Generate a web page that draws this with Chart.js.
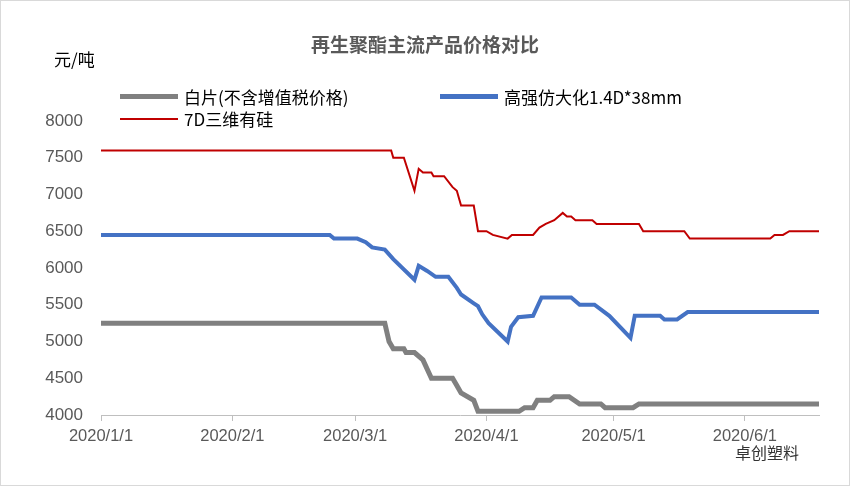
<!DOCTYPE html>
<html><head><meta charset="utf-8">
<script src="https://cdn.jsdelivr.net/npm/chart.js@4"></script>
<style>
body{margin:0;width:850px;height:486px;overflow:hidden;background:#fff;font-family:"Noto Sans CJK SC","Liberation Sans",sans-serif}
#wrap{position:absolute;left:0;top:0;width:848px;height:484px;border:1px solid #d9d9d9}
.t{position:absolute;white-space:nowrap;color:#404040}
.lg{position:absolute;font-size:17px;color:#000;display:flex;align-items:center}
.lg span.l{display:inline-block;width:58px;margin-right:6px}
</style></head><body>
<div id="wrap"><canvas id="c" width="850" height="486"></canvas></div>
<div class="t" style="left:0;width:850px;text-align:center;top:30px;font-size:19px;font-weight:bold;color:#595959">再生聚酯主流产品价格对比</div>
<div class="t" style="left:54px;top:46px;font-size:17px;color:#000">元/吨</div>
<div class="lg" style="left:120px;top:84px"><span class="l" style="height:5px;background:#808080"></span>白片(不含增值税价格)</div>
<div class="lg" style="left:440px;top:84px"><span class="l" style="height:5px;background:#4472c4"></span>高强仿大化1.4D*38mm</div>
<div class="lg" style="left:120px;top:106px"><span class="l" style="height:2px;background:#c00000"></span>7D三维有硅</div>
<div class="t" style="left:735px;top:440px;font-size:16px;color:#333">卓创塑料</div>
<script>
const xTickDays=[0,31,60,91,121,152];
const xTickLabels=["2020/1/1","2020/2/1","2020/3/1","2020/4/1","2020/5/1","2020/6/1"];
const grayDays=[0,67,68,69,71.5,72,74,76,78,80,83,84,85,88,89,98.7,100,102,103,106,107,110.5,113,118,119,125.6,127,169.5];
const grayVals=[5250,5250,5000,4900,4900,4850,4850,4750,4500,4500,4500,4400,4300,4200,4050,4050,4100,4100,4200,4200,4250,4250,4150,4150,4100,4100,4150,4150];
const blueDays=[0,54,55,60.5,62.5,64,67,69,74,75,77,79,82,84,85,88,89,90,91.5,96,96.8,98.5,102,104,111,113,116.5,120,125,126,132,133,136,138.5,169.5];
const blueVals=[6450,6450,6400,6400,6350,6280,6250,6120,5840,6030,5960,5880,5880,5730,5640,5520,5480,5370,5250,5000,5200,5330,5350,5600,5600,5500,5500,5350,5050,5350,5350,5300,5300,5400,5400];
const redDays=[0,68.5,69,71.5,74,75,76,78,78.5,81,83,84,85,88,89,91,92.5,96,97,102,103.5,105,107,109,110,111,112,116,117,127,128,137.7,139,158,159,161,162.5,169.5];
const redVals=[7600,7600,7500,7500,7050,7350,7300,7300,7250,7250,7100,7050,6850,6850,6500,6500,6450,6400,6450,6450,6550,6600,6650,6750,6700,6700,6650,6650,6600,6600,6500,6500,6400,6400,6450,6450,6500,6500];
const pts=(d,v)=>d.map((x,i)=>({x,y:v[i]}));
const ds=(d,v,c,w)=>({data:pts(d,v),borderColor:c,borderWidth:w,pointRadius:0,tension:0,fill:false});
new Chart(document.getElementById('c'),{type:'line',
data:{datasets:[ds(redDays,redVals,'#c00000',2),ds(blueDays,blueVals,'#4472c4',4),ds(grayDays,grayVals,'#808080',5)]},
options:{responsive:false,animation:false,
layout:{padding:{left:0,right:32,top:120,bottom:0}},
plugins:{legend:{display:false},tooltip:{enabled:false}},
scales:{
x:{type:'linear',min:0,max:169.5,
afterBuildTicks:s=>{s.ticks=xTickDays.map(v=>({value:v}));},
afterFit:s=>{s.height=72;},
ticks:{autoSkip:false,maxRotation:0,color:'#595959',padding:6,font:{size:16.5,family:'Liberation Sans'},callback:(v)=>xTickLabels[xTickDays.indexOf(v)]},
grid:{display:true,drawOnChartArea:false,tickLength:6,color:'#bfbfbf'},
border:{color:'#bfbfbf'}},
y:{min:4000,max:8000,
afterFit:s=>{s.width=100;},
ticks:{stepSize:500,color:'#595959',font:{size:17,family:'Liberation Sans'},padding:10,callback:v=>String(v)},
grid:{display:false},border:{display:false}}
}}});
</script></body></html>
